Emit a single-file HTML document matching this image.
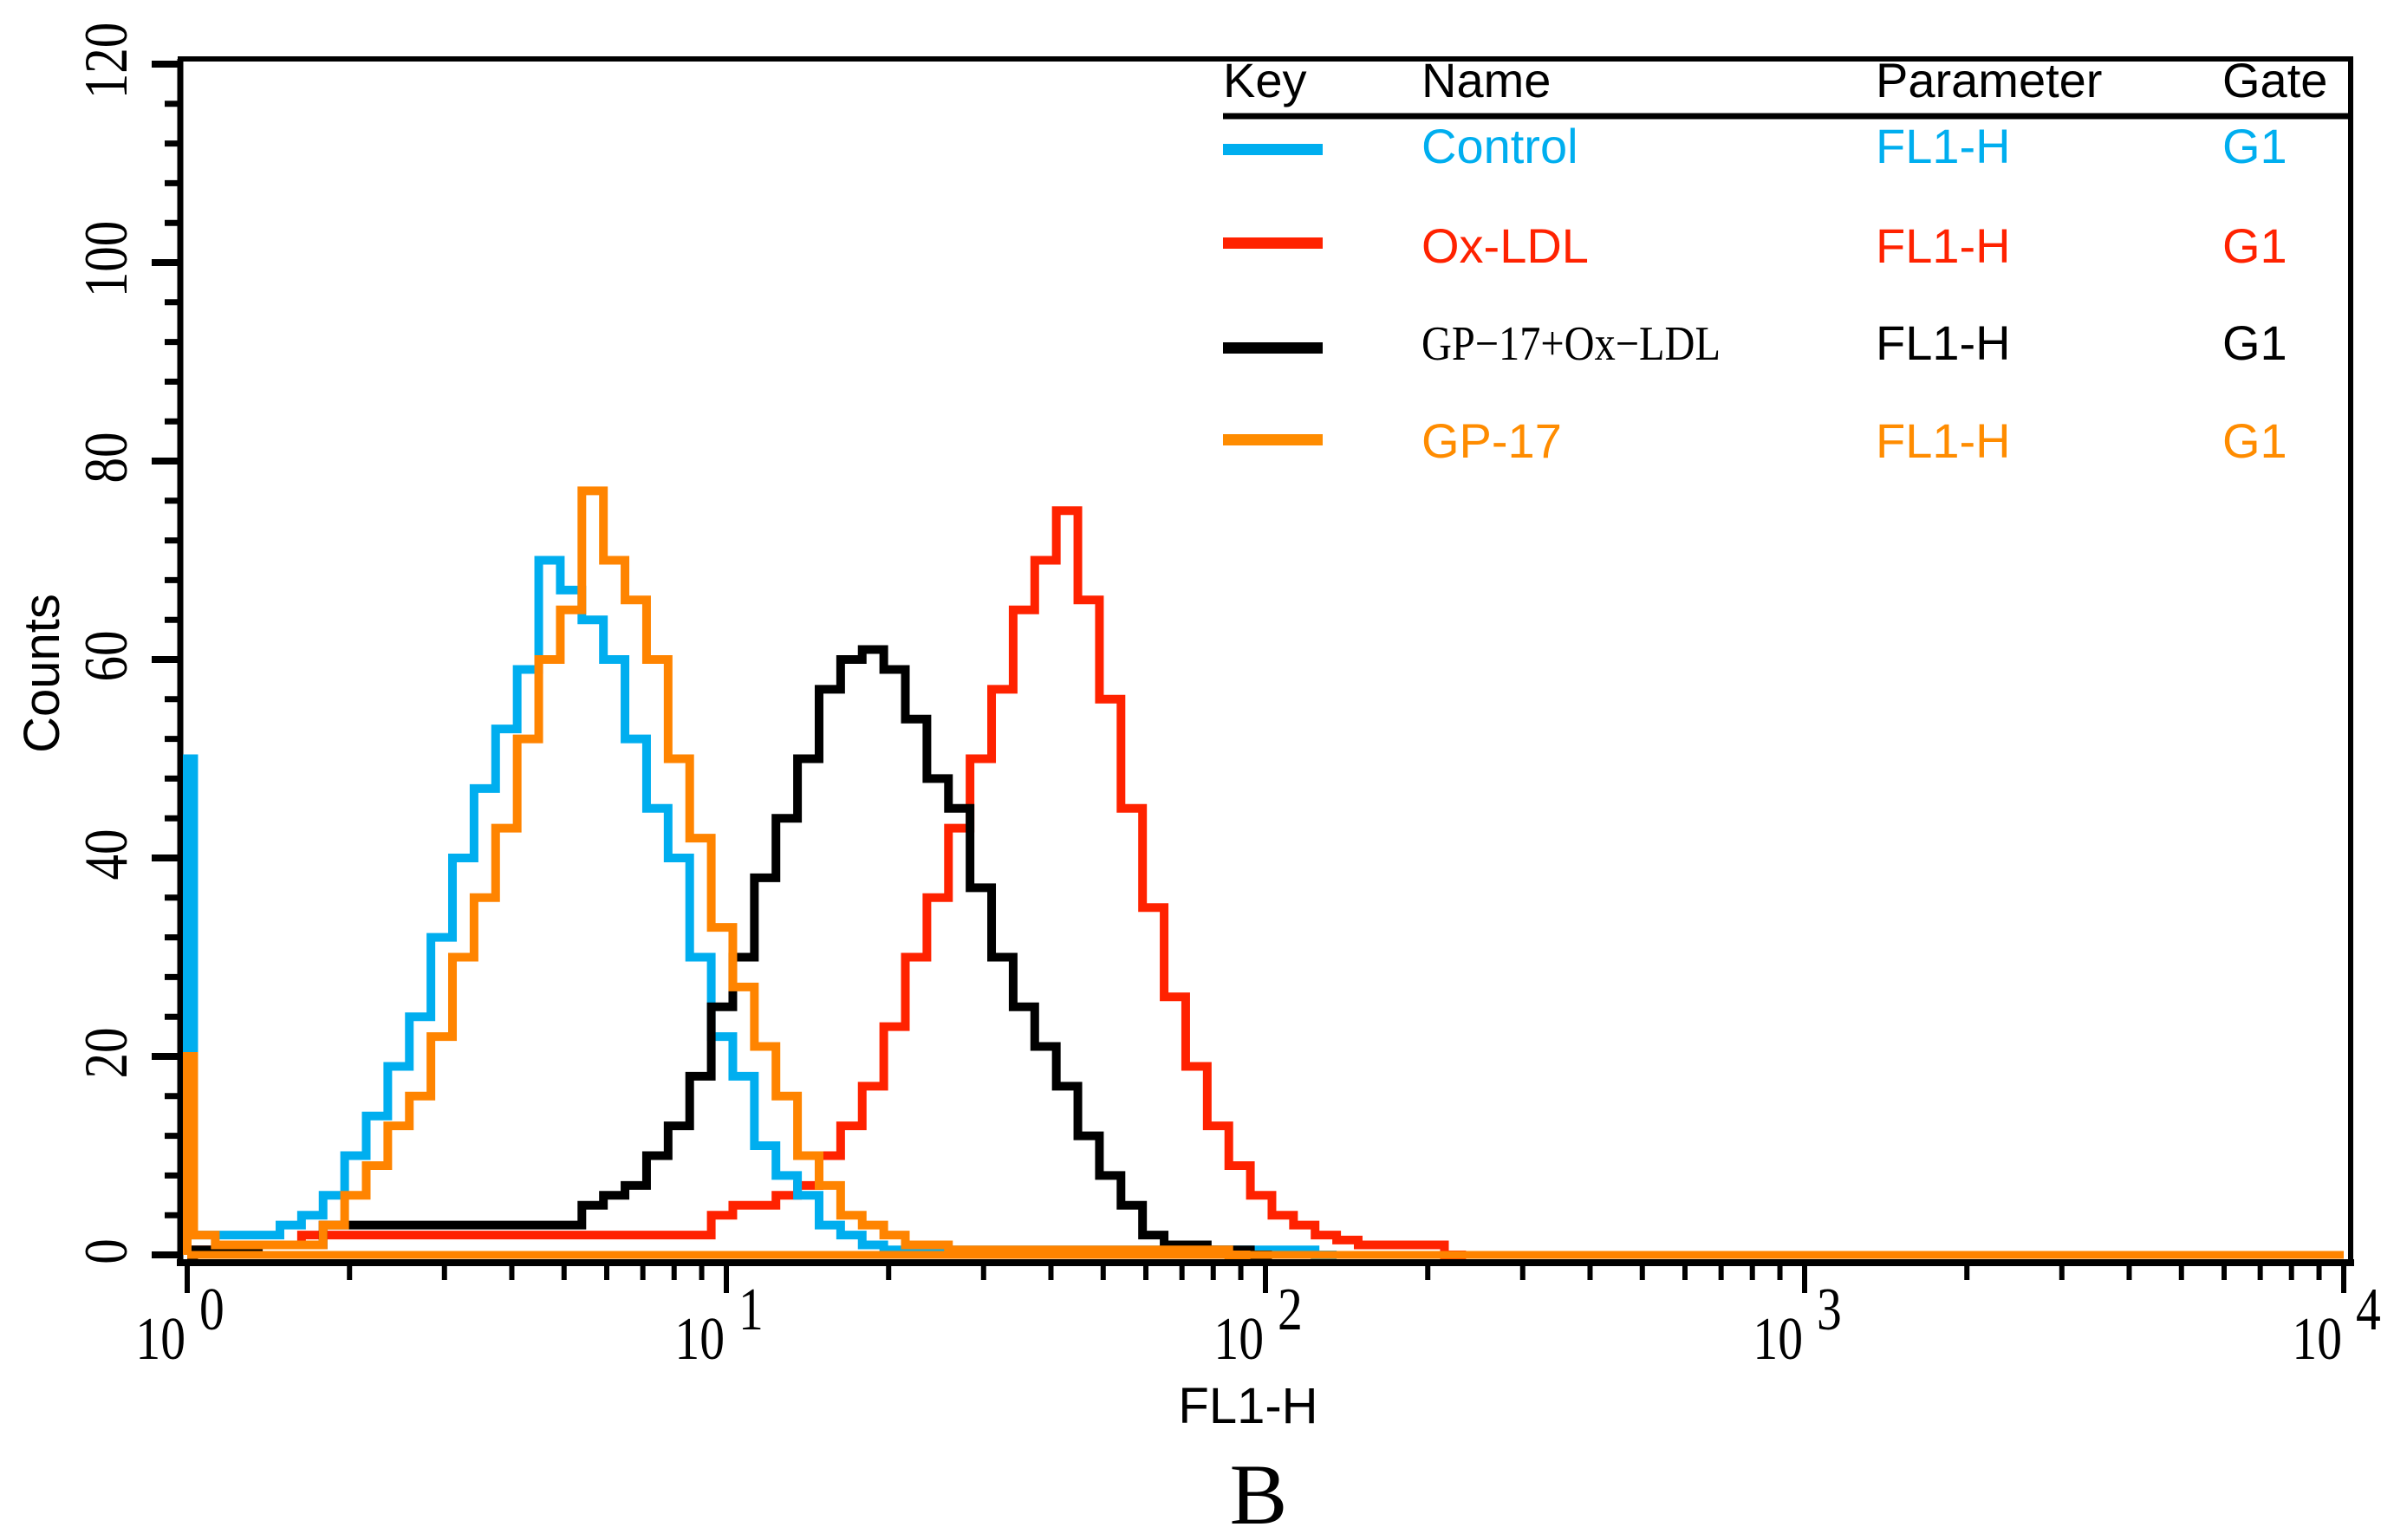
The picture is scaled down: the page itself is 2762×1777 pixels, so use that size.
<!DOCTYPE html>
<html><head><meta charset="utf-8"><style>
html,body{margin:0;padding:0;background:#fff;}
svg{display:block;}
</style></head><body>
<svg id="chart" width="2762" height="1777" viewBox="0 0 2762 1777" xmlns="http://www.w3.org/2000/svg">
<g id="axes"></g>
<g id="series"></g>
<g id="legend">
  <line x1="1411" y1="134" x2="2710" y2="134" stroke="#000" stroke-width="7"/>
  <g font-family="Liberation Sans, sans-serif" font-size="56" fill="#000">
    <text x="1411" y="112">Key</text>
    <text x="1640" y="112">Name</text>
    <text x="2164" y="112">Parameter</text>
    <text x="2564" y="112">Gate</text>
  </g>
  <g font-family="Liberation Sans, sans-serif" font-size="56" fill="#00AEEF">
    <rect x="1411" y="166" width="115" height="13" fill="#00AEEF"/>
    <text x="1640" y="188">Control</text>
    <text x="2164" y="188">FL1-H</text>
    <text x="2564" y="188">G1</text>
  </g>
  <g font-family="Liberation Sans, sans-serif" font-size="56" fill="#FF2200">
    <rect x="1411" y="274" width="115" height="13" fill="#FF2200"/>
    <text x="1640" y="303">Ox-LDL</text>
    <text x="2164" y="303">FL1-H</text>
    <text x="2564" y="303">G1</text>
  </g>
  <g font-size="56" fill="#000">
    <rect x="1411" y="395" width="115" height="13" fill="#000"/>
    <text x="1640" y="415" font-family="Liberation Serif, serif" font-size="56" textLength="345" lengthAdjust="spacingAndGlyphs">GP−17+Ox−LDL</text>
    <text x="2164" y="415" font-family="Liberation Sans, sans-serif">FL1-H</text>
    <text x="2564" y="415" font-family="Liberation Sans, sans-serif">G1</text>
  </g>
  <g font-family="Liberation Sans, sans-serif" font-size="56" fill="#FF8C00">
    <rect x="1411" y="501" width="115" height="13" fill="#FF8C00"/>
    <text x="1640" y="528">GP-17</text>
    <text x="2164" y="528">FL1-H</text>
    <text x="2564" y="528">G1</text>
  </g>
</g>
<text x="1440" y="1642" text-anchor="middle" font-family="Liberation Sans, sans-serif" font-size="58">FL1-H</text>
<text transform="translate(68,777) rotate(-90)" text-anchor="middle" font-family="Liberation Sans, sans-serif" font-size="58">Counts</text>
<text x="1452" y="1758" text-anchor="middle" font-family="Liberation Serif, serif" font-size="100">B</text>
</svg>
<script>
// ---- data ----
const firstBinWidthDecades = 0.012; // the narrow first channel (edge spike)
const binWidthDecades = 0.04;       // remaining channel width in log10 units
const controlCounts = [50,2,2,2,2,3,4,6,10,14,19,24,32,40,47,53,59,70,67,64,60,52,45,40,30,22,18,11,8,6,3,2,1,0.5,0.5,0.5,0.5,0.5,0.5,0.5,0.5,0.5,0.5,0.5,0.5,0.5,0.5,0.5,0.5,0.5,0.5,0.5,0.5,0];
const oxldlCounts = [0,0.5,0.5,1,1,1,2,2,2,2,2,2,2,2,2,2,2,2,2,2,2,2,2,2,2,4,5,5,6,7,10,13,17,23,30,36,43,50,57,65,70,75,66,56,45,35,26,19,13,9,6,4,3,2,1.5,1,1,1,1,0];
const gp17OxldlCounts = [0,0.5,0.5,0.5,1,1,1,3,3,3,3,3,3,3,3,3,3,3,3,5,6,7,10,13,18,25,30,38,44,50,57,60,61,59,54,48,45,37,30,25,21,17,12,8,5,2,1,1,0.5,0.5,0];
const gp17Counts = [20,2,1,1,1,1,1,3,6,9,13,16,22,30,36,43,52,60,65,77,70,66,60,50,42,33,27,21,16,10,7,4,3,2,1,1,0.5,0.5,0.5,0.5,0.5,0.5,0.5,0.5,0.5,0.5,0.5,0.5,0.5,0];
const yTickValues = [0,20,40,60,80,100,120];
const yTickLabels = ["0","20","40","60","80","100","120"];
const xDecades = [0,1,2,3,4];
const xDecadeLabels = ["0","1","2","3","4"];

// ---- scales ----
const X0 = 216, DEC = 622, Y0 = 1448, PPU = 11.45;
function xs(logv){ return X0 + logv*DEC; }
function ys(v){ return Y0 - v*PPU; }
function edge(i){ return i===0 ? 0 : firstBinWidthDecades + (i-1)*binWidthDecades; }
const NS = "http://www.w3.org/2000/svg";
function mk(tag, attrs, parent){ const e=document.createElementNS(NS,tag); for(const k in attrs) e.setAttribute(k,attrs[k]); parent.appendChild(e); return e; }

const axes = document.getElementById('axes');
let f = mk('path',{d:`M208 1457 L208 68 L2712 68 L2712 1457`,fill:'none',stroke:'#000','stroke-width':6},axes);


let xa = mk('line',{x1:204,y1:1457,x2:2716,y2:1457,stroke:'#000','stroke-width':8},axes);


let ya = mk('line',{x1:208,y1:68,x2:208,y2:1460,stroke:'#000','stroke-width':7},axes);



for(let v=0; v<=120; v+=4){
  const major = v%20===0;
  const t = mk('line',{x1: major?175:190, y1: ys(v), x2:208, y2: ys(v), stroke:'#000','stroke-width': major?8:7},axes);
  
  
}
yTickValues.forEach((v,i)=>{
  const t = mk('text',{transform:`translate(146,${ys(v)-4}) rotate(-90) scale(0.95,1.15)`,'text-anchor':'middle','font-family':'Liberation Serif, serif','font-size':62},axes);
  t.textContent = yTickLabels[i];
  
  
});
xDecades.forEach((d,i)=>{
  const t = mk('line',{x1:xs(d),y1:1457,x2:xs(d),y2:1492,stroke:'#000','stroke-width':6},axes);
  
  
  if(d<4){
    for(let m=2;m<=9;m++){
      const lx = xs(d+Math.log10(m));
      const mt = mk('line',{x1:lx,y1:1457,x2:lx,y2:1477,stroke:'#000','stroke-width':6},axes);
      
      
    }
  }
  const b = mk('text',{transform:`translate(${xs(d)-2},1568) scale(0.9,1.1)`,'text-anchor':'end','font-family':'Liberation Serif, serif','font-size':64},axes);
  b.textContent='10';
  
  
  const s = mk('text',{transform:`translate(${xs(d)+14},1534) scale(0.9,1.1)`,'text-anchor':'start','font-family':'Liberation Serif, serif','font-size':64},axes);
  s.textContent=xDecadeLabels[i];
  
  
});

const ser = document.getElementById('series');
function stepPath(counts){
  let d = `M${xs(0)} ${ys(0)}`;
  counts.forEach((c,i)=>{
    const a = xs(edge(i)), b = xs(edge(i+1));
    d += ` L${a} ${ys(c)} L${b} ${ys(c)}`;
  });
  return d;
}
function drawSeries(counts,color,name){
  const p = mk('path',{d:stepPath(counts),fill:'none',stroke:color,'stroke-width':10,'stroke-linejoin':'miter'},ser);
  
  
}
drawSeries(oxldlCounts,'#FF2200','series-ox-ldl');
drawSeries(controlCounts,'#00AEEF','series-control');
drawSeries(gp17OxldlCounts,'#000000','series-gp17-ox-ldl');
drawSeries(gp17Counts,'#FF8400','series-gp17');
const base = mk('line',{x1:xs(0),y1:ys(0),x2:xs(4),y2:ys(0),stroke:'#FF8400','stroke-width':9},ser);


</script>
</body></html>
